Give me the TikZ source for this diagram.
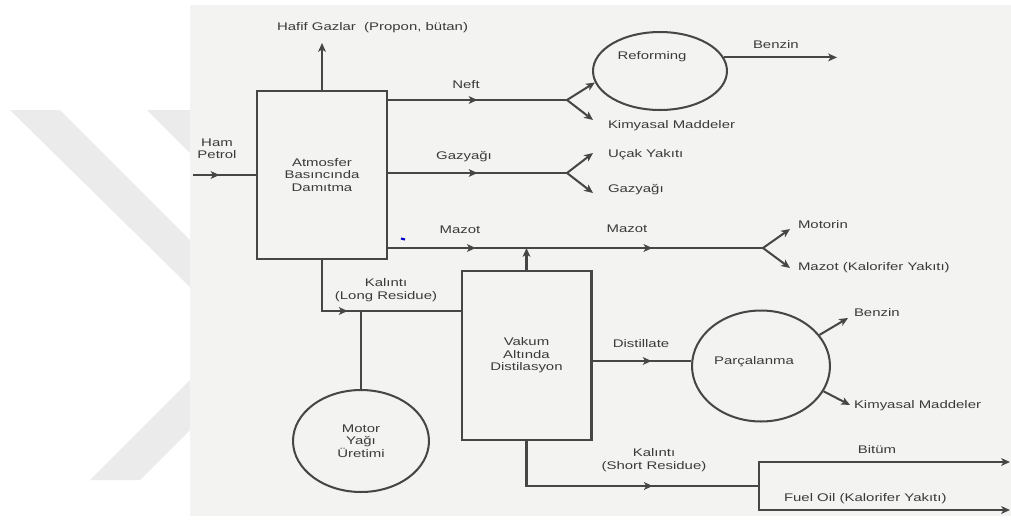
\documentclass[tikz,border=0pt]{standalone}
\usepackage{fontspec}
\setmainfont{Liberation Sans}[FakeStretch=1.35]
\usetikzlibrary{arrows.meta,decorations.markings,shapes.geometric}
\definecolor{ink}{RGB}{70,70,70}
\definecolor{txt}{RGB}{58,58,58}
\definecolor{paper}{RGB}{243,243,241}
\definecolor{wmark}{RGB}{235,235,235}
\tikzset{
  flow/.tip={Stealth[length=5pt,width=4.4pt,inset=1.3pt]},
  mid arrow/.style={postaction={decorate,decoration={markings,mark=at position #1 with {\arrow{flow}}}}},
}

\begin{document}
\begin{tikzpicture}[x=0.02cm,y=-0.02cm,line width=1.15pt,draw=ink,
    every node/.style={font=\fontsize{6.3}{7.1}\selectfont,text=txt,inner sep=0pt},
    unit/.style={draw=ink,rectangle,minimum width=2.6cm,minimum height=3.38cm,align=center},
    tank/.style={draw=ink,ellipse,inner sep=0pt,align=center}]
		%%%%% PAGE %%%%%
		\useasboundingbox (0,0) rectangle (1011,521);
		\fill[white] (0,0) rectangle (1011,521);
		\fill[wmark] (10,110) -- (60,110) -- (190,240) -- (190,287) -- cycle;
		\fill[wmark] (147,110) -- (190,110) -- (190,153) -- cycle;
		\fill[wmark] (90,480) -- (140,480) -- (190,430) -- (190,380) -- cycle;
		\fill[paper] (190,5) rectangle (1011,516);
		\draw[blue!80!black,line width=1.2pt] (401,238.5) -- (405,239.5);

		%%%%% UNITS %%%%%
		\node[unit] (atm) at (322,175) {Atmosfer\\Basıncında\\Damıtma};
		\node[unit] (vakum) at (526.5,355.5) {Vakum\\Altında\\Distilasyon};
		\node[tank,minimum width=2.68cm,minimum height=1.56cm] (reform) at (660,71) {};
		\node (reformT) at (652,57) {Reforming};
		\node[tank,minimum width=2.76cm,minimum height=2.22cm] (parc) at (761,366) {};
		\node (parcT) at (754,362) {Parçalanma};
		\node[tank,minimum width=2.72cm,minimum height=2.04cm] (motor) at (361,441) {Motor\\Yağı\\Üretimi};

		%%%%% POINTS %%%%%
		\coordinate (hamIn) at (193,175);
		\coordinate (hafifP) at (322,43);
		\coordinate (neftB) at (567,100);
		\coordinate (kimP) at (593,120);
		\coordinate (benzinP) at (837,58);
		\coordinate (gazB) at (567,173);
		\coordinate (ucakP) at (593,153);
		\coordinate (gazP) at (593,193);
		\coordinate (mazB) at (763,248);
		\coordinate (motP) at (790,229);
		\coordinate (kalP) at (790,268);
		\coordinate (resY) at (0,311);
		\coordinate (distY) at (0,361);
		\coordinate (benz2P) at (848,318);
		\coordinate (kim2P) at (850,405);
		\coordinate (shortJ) at (759,486);
		\coordinate (bitum) at (1010,462);
		\coordinate (fuel) at (1010,510);

		%%%%% FLOWS %%%%%
		\draw[mid arrow=0.42] (hamIn) -- (atm.west);
		\draw[-flow] (atm.north) -- (hafifP);
		\draw[mid arrow=0.5] (neftB -| atm.east) -- (neftB);
		\draw[-flow] (neftB) -- (reform.190);
		\draw[-flow] (neftB) -- (kimP);
		\draw[-flow] (reform.12) -- (reform.12 -| benzinP);
		\draw[mid arrow=0.5] (gazB -| atm.east) -- (gazB);
		\draw[-flow] (gazB) -- (ucakP);
		\draw[-flow] (gazB) -- (gazP);
		\draw[mid arrow=0.234,mid arrow=0.705] (mazB -| atm.east) -- (mazB);
		\draw[-flow] (mazB) -- (motP);
		\draw[-flow] (mazB) -- (kalP);
		\draw[-flow] (vakum.north) -- (vakum.north |- mazB);
		\draw[mid arrow=0.403] (atm.south) |- (vakum.west |- resY);
		\draw (motor.north) -- (motor.north |- resY);
		\draw[mid arrow=0.6] (vakum.east |- distY) -- (parc.west |- distY);
		\draw[-flow] (parc.28) -- (benz2P);
		\draw[-flow] (parc.-22) -- (kim2P);
		\draw[mid arrow=0.617] (vakum.south) |- (shortJ);
		\draw[-flow] (shortJ) |- (bitum);
		\draw[-flow] (shortJ) |- (fuel);

		%%%%% LABELS %%%%%
		\node[anchor=west] (hafif) at (276,28) {Hafif Gazlar\ \ (Propon, bütan)};
		\node[align=center] (ham) at (217,148.5) {Ham\\Petrol};
		\node (neft) at (466,85) {Neft};
		\node[anchor=west] (kim1) at (607,126) {Kimyasal Maddeler};
		\node[anchor=west] (benz1) at (752,45) {Benzin};
		\node (gaz) at (464,157) {Gazyağı};
		\node[anchor=west] (ucak) at (607,155) {Uçak Yakıtı};
		\node[anchor=west] (gaz2) at (607,190) {Gazyağı};
		\node (maz1) at (460,230) {Mazot};
		\node (maz2) at (627,229) {Mazot};
		\node[anchor=west] (motorin) at (797,225) {Motorin};
		\node[anchor=west] (kalorifer) at (797,268) {Mazot (Kalorifer Yakıtı)};
		\node[align=center] (longres) at (386,290) {Kalıntı\\(Long Residue)};
		\node (distil) at (641,344) {Distillate};
		\node[anchor=west] (benz2) at (853,313) {Benzin};
		\node[anchor=west] (kim2) at (853,406) {Kimyasal Maddeler};
		\node[align=center] (shortres) at (654,460) {Kalıntı\\(Short Residue)};
		\node (bitumT) at (877,450) {Bitüm};
		\node[anchor=west] (fuelT) at (783,499) {Fuel Oil (Kalorifer Yakıtı)};
\end{tikzpicture}
\end{document}
